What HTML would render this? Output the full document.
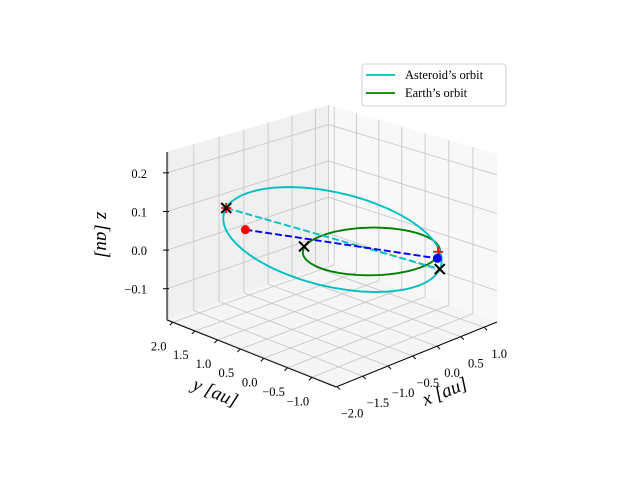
<!DOCTYPE html>
<html><head><meta charset="utf-8"><style>
html,body{margin:0;padding:0;background:#fff;}
svg{display:block;font-family:"Liberation Serif",serif;}
</style></head><body>
<svg id="chart" width="640" height="480" viewBox="0 0 640 480" xmlns="http://www.w3.org/2000/svg">
<g id="panes"></g>
<g id="grid"></g>
<g id="axes"></g>
<g id="series"></g>
<text x="0" y="0" font-size="19" font-style="italic" transform="translate(447,397) rotate(-22)" text-anchor="middle">x [au]</text>
<text x="0" y="0" font-size="19" font-style="italic" transform="translate(213,398) rotate(23)" text-anchor="middle">y [au]</text>
<text x="0" y="0" font-size="19" font-style="italic" transform="translate(97,235) rotate(90)" text-anchor="middle">z [au]</text>
<g>
<rect x="362" y="64" width="144" height="42" rx="3" fill="#fff" stroke="#d0d0d0"/>
<line x1="366" y1="75" x2="395" y2="75" stroke="#00bfbf" stroke-width="1.8"/>
<text x="405" y="79" font-size="12.5">Asteroid’s orbit</text>
<line x1="366" y1="93" x2="395" y2="93" stroke="#008000" stroke-width="1.8"/>
<text x="405" y="97" font-size="12.5">Earth’s orbit</text>
</g>
</svg>
<script>
// axis limits and ticks
const xLim = [-2.02, 1.28];
const yLim = [-1.49, 2.13];
const zLim = [-0.181, 0.254];
const xTicks = [-2.0, -1.5, -1.0, -0.5, 0.0, 0.5, 1.0];
const yTicks = [-1.0, -0.5, 0.0, 0.5, 1.0, 1.5, 2.0];
const zTicks = [-0.1, 0.0, 0.1, 0.2];
const xTickLabels = ["−2.0", "−1.5", "−1.0", "−0.5", "0.0", "0.5", "1.0"];
const yTickLabels = ["−1.0", "−0.5", "0.0", "0.5", "1.0", "1.5", "2.0"];
const zTickLabels = ["−0.1", "0.0", "0.1", "0.2"];
// Earth's orbit
const earthCenter = [0.04, -0.097, 0];
const earthRadius = [1.016];
// Asteroid orbit: center and semi-axis vectors
const asteroidCenter = [-0.2745, 0.421, 0.025];
const asteroidAxisA = [-0.8105, 1.449, 0.055];
const asteroidAxisB = [0.84, 0.39, 0.058];
// markers
const aphelion = [-1.085, 1.87, 0.08];
const perihelion = [0.536, -1.028, -0.03];
const redDot = [-1.077, 1.449, 0.04];
const blueDot = [0.6, -0.917, -0.01];
const earthCross = [-0.518, 0.768, 0.0];
const redPlus = [0.691, -0.844, 0.0];

const NS = "http://www.w3.org/2000/svg";
const F = [336, 387];
const K = 0.068;
const XV = [161, -65], YV = [-169, -67], ZV = [0, -179.4];
function P(x, y, z) {
  const tx = (x - xLim[0]) / (xLim[1] - xLim[0]);
  const ty = (y - yLim[0]) / (yLim[1] - yLim[0]);
  const tz = (z - zLim[0]) / (zLim[1] - zLim[0]);
  const w = 1 + K * (tx + ty);
  const ox = (1 + K) * (tx * XV[0] + ty * YV[0]) + tz * ZV[0];
  const oy = (1 + K) * (tx * XV[1] + ty * YV[1]) + tz * ZV[1];
  return [F[0] + ox / w, F[1] + oy / w];
}
function mk(parent, tag, attrs) {
  const el = document.createElementNS(NS, tag);
  for (const k in attrs) el.setAttribute(k, attrs[k]);
  document.getElementById(parent).appendChild(el);
  return el;
}
function poly(pts) { return pts.map(p => p[0].toFixed(1) + "," + p[1].toFixed(1)).join(" "); }
const [x0, x1] = xLim, [y0, y1] = yLim, [z0, z1] = zLim;
let el;
el = mk("panes", "polygon", {points: poly([P(x0,y0,z0),P(x1,y0,z0),P(x1,y1,z0),P(x0,y1,z0)]), fill: "#f5f5f5"});


el = mk("panes", "polygon", {points: poly([P(x0,y1,z0),P(x1,y1,z0),P(x1,y1,z1),P(x0,y1,z1)]), fill: "#f0f0f0"});


el = mk("panes", "polygon", {points: poly([P(x1,y0,z0),P(x1,y1,z0),P(x1,y1,z1),P(x1,y0,z1)]), fill: "#f8f8f8"});


function gl(a, b, name) {
  const l = mk("grid", "line", {x1: a[0], y1: a[1], x2: b[0], y2: b[1], stroke: "#c4c4c4", "stroke-width": 0.8});
  
  
}
xTicks.forEach(x => { gl(P(x,y0,z0), P(x,y1,z0), 'floor-grid-x'); gl(P(x,y1,z0), P(x,y1,z1), 'left-grid-x'); });
yTicks.forEach(y => { gl(P(x0,y,z0), P(x1,y,z0), 'floor-grid-y'); gl(P(x1,y,z0), P(x1,y,z1), 'right-grid-y'); });
zTicks.forEach(z => { gl(P(x0,y1,z), P(x1,y1,z), 'left-grid-z'); gl(P(x1,y0,z), P(x1,y1,z), 'right-grid-z'); });
gl(P(x1,y1,z0), P(x1,y1,z1), 'back-edge');
function al(a, b, name) {
  const l = mk("axes", "line", {x1: a[0], y1: a[1], x2: b[0], y2: b[1], stroke: "#000", "stroke-width": 1});
  
  
}
al(P(x0,y0,z0), P(x1,y0,z0), 'x-axis-line');
al(P(x0,y0,z0), P(x0,y1,z0), 'y-axis-line');
al(P(x0,y1,z0), P(x0,y1,z1), 'z-axis-line');
function txt(x, y, s, name, anchor) {
  const t = mk("axes", "text", {x: x, y: y, "font-size": 12.5, "text-anchor": anchor || "middle"});
  t.textContent = s;
  
  
}
xTicks.forEach((x, i) => {
  const a = P(x, y0, z0);
  al(a, [a[0] + 3, a[1] + 3], 'x-tick');
  txt(a[0] + 15, a[1] + 31, xTickLabels[i], 'x-tick-label');
});
yTicks.forEach((y, i) => {
  const a = P(x0, y, z0);
  al(a, [a[0] - 3, a[1] + 3], 'y-tick');
  txt(a[0] - 14, a[1] + 28, yTickLabels[i], 'y-tick-label');
});
zTicks.forEach((z, i) => {
  const a = P(x0, y1, z);
  al([a[0] - 4, a[1]], [a[0] + 2, a[1]], 'z-tick');
  txt(a[0] - 20, a[1] + 5, zTickLabels[i], 'z-tick-label', "end");
});
function curve(c, A, B, color, name) {
  const pts = [];
  for (let k = 0; k <= 120; k++) {
    const t = k / 120 * 2 * Math.PI;
    pts.push(P(c[0] + Math.cos(t) * A[0] + Math.sin(t) * B[0], c[1] + Math.cos(t) * A[1] + Math.sin(t) * B[1], c[2] + Math.cos(t) * A[2] + Math.sin(t) * B[2]));
  }
  const l = mk("series", "polyline", {points: poly(pts), fill: "none", stroke: color, "stroke-width": 1.9});
  
  
}
curve(earthCenter, [earthRadius[0], 0, 0], [0, earthRadius[0], 0], "#008000", 'earth-orbit');
curve(asteroidCenter, asteroidAxisA, asteroidAxisB, "#00bfbf", 'asteroid-orbit');
function dash(a, b, color, name) {
  const p = P(a[0], a[1], a[2]), q = P(b[0], b[1], b[2]);
  const l = mk("series", "line", {x1: p[0], y1: p[1], x2: q[0], y2: q[1], stroke: color, "stroke-width": 1.9, "stroke-dasharray": "7,3"});
  
  
}
dash(aphelion, perihelion, "#00bfbf", 'apsides-line');
dash(redDot, blueDot, "#0000ff", 'position-line');
function dot(v, color, name) {
  const p = P(v[0], v[1], v[2]);
  const c = mk("series", "circle", {cx: p[0], cy: p[1], r: 4.5, fill: color});
  
  
}
function plus(v, color, name) {
  const p = P(v[0], v[1], v[2]);
  const g = mk("series", "path", {d: `M${p[0]-5},${p[1]}h10M${p[0]},${p[1]-5}v10`, stroke: color, "stroke-width": 1.8, fill: "none"});
  
  
}
function cross(v, name) {
  const p = P(v[0], v[1], v[2]);
  const g = mk("series", "path", {d: `M${p[0]-5},${p[1]-5}l10,10M${p[0]-5},${p[1]+5}l10,-10`, stroke: "#000", "stroke-width": 2, fill: "none"});
  
  
}
dot(redDot, "#ff0000", 'red-position-dot');
plus(aphelion, "#ff0000", 'aphelion-plus');
cross(aphelion, 'aphelion-cross');
cross(earthCross, 'earth-cross');
plus(redPlus, "#ff0000", 'red-plus-marker');
dot(blueDot, "#0000ff", 'blue-position-dot');
cross(perihelion, 'perihelion-cross');
</script>
</body></html>
